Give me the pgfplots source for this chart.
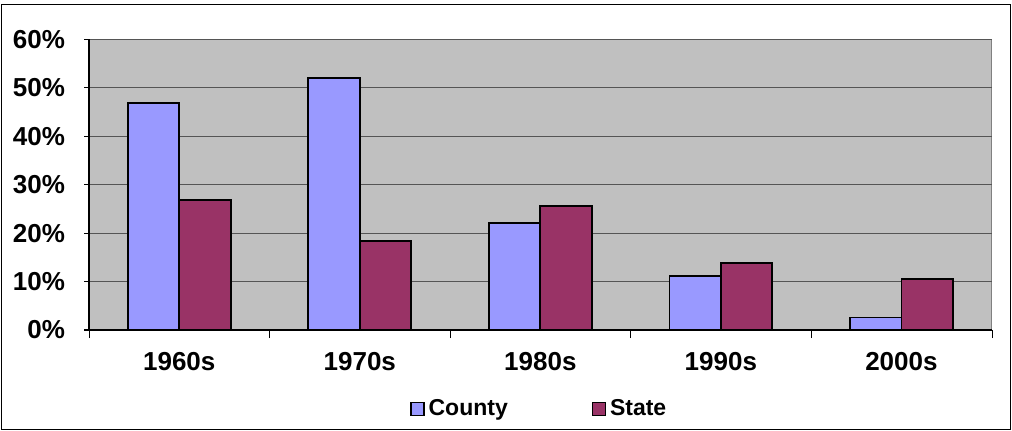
\documentclass[border=0pt]{standalone}
\usepackage{fontspec}
\setmainfont{Liberation Sans}
\usepackage{pgfplots}
\pgfplotsset{compat=1.18}
\definecolor{county}{HTML}{9999FF}
\definecolor{state}{HTML}{993366}
\definecolor{plotbg}{HTML}{C0C0C0}
\definecolor{gridc}{HTML}{555555}
\definecolor{framec}{HTML}{808080}
\begin{document}
\begin{tikzpicture}[x=1pt,y=1pt]
\useasboundingbox (0,0) rectangle (506,215);
\draw[line width=0.5pt, black] (0.5,0.5) rectangle (505,213);
\begin{axis}[
  at={(44.5pt,50pt)}, anchor=south west,
  scale only axis, width=451.35pt, height=145.35pt,
  xmin=-0.5, xmax=4.5, ymin=0, ymax=60,
  ybar, bar width=0.285,
  xtick={0,1,2,3,4},
  xticklabels={1960s,1970s,1980s,1990s,2000s},
  xtick style={draw=none},
  extra x ticks={-0.5,0.5,1.5,2.5,3.5,4.5},
  extra x tick labels={},
  extra x tick style={xtick style={draw=black}, major tick length=4pt, grid=none},
  tick align=outside,
  major tick length=2.5pt,
  ytick={0,10,...,60},
  yticklabels={0\%,10\%,20\%,30\%,40\%,50\%,60\%},
  ytick style={black, line width=0.6pt},
  ymajorgrids,
  grid style={gridc, line width=0.6pt},
  axis background/.style={fill=plotbg, draw=framec, line width=0.6pt},
  axis x line*=bottom, axis y line*=left,
  axis line style={-, black, line width=0.6pt},
  xticklabel style={yshift=-5pt, font=\bfseries\fontsize{13}{15}\selectfont},
  yticklabel style={xshift=-6pt, font=\bfseries\fontsize{13}{15}\selectfont},
  legend style={at={(0.5,-0.272)}, anchor=center, draw=none, fill=none,
    legend columns=2, /tikz/every even column/.append style={column sep=40pt},
    font=\bfseries\fontsize{11.5}{13}\selectfont},
  legend image code/.code={\draw[#1, draw=black, line width=0.6pt] (0pt,-3.2pt) rectangle (6.5pt,3.2pt);},
]
\addplot[fill=county, draw=black, line width=0.9pt, bar shift=-0.1425]
  coordinates {(0,46.9) (1,52.0) (2,22.1) (3,11.2) (4,2.6)};
\addplot[fill=state, draw=black, line width=0.9pt, bar shift=0.1425]
  coordinates {(0,26.8) (1,18.4) (2,25.6) (3,13.8) (4,10.5)};
\legend{County, State}
\end{axis}
\end{tikzpicture}
\end{document}
